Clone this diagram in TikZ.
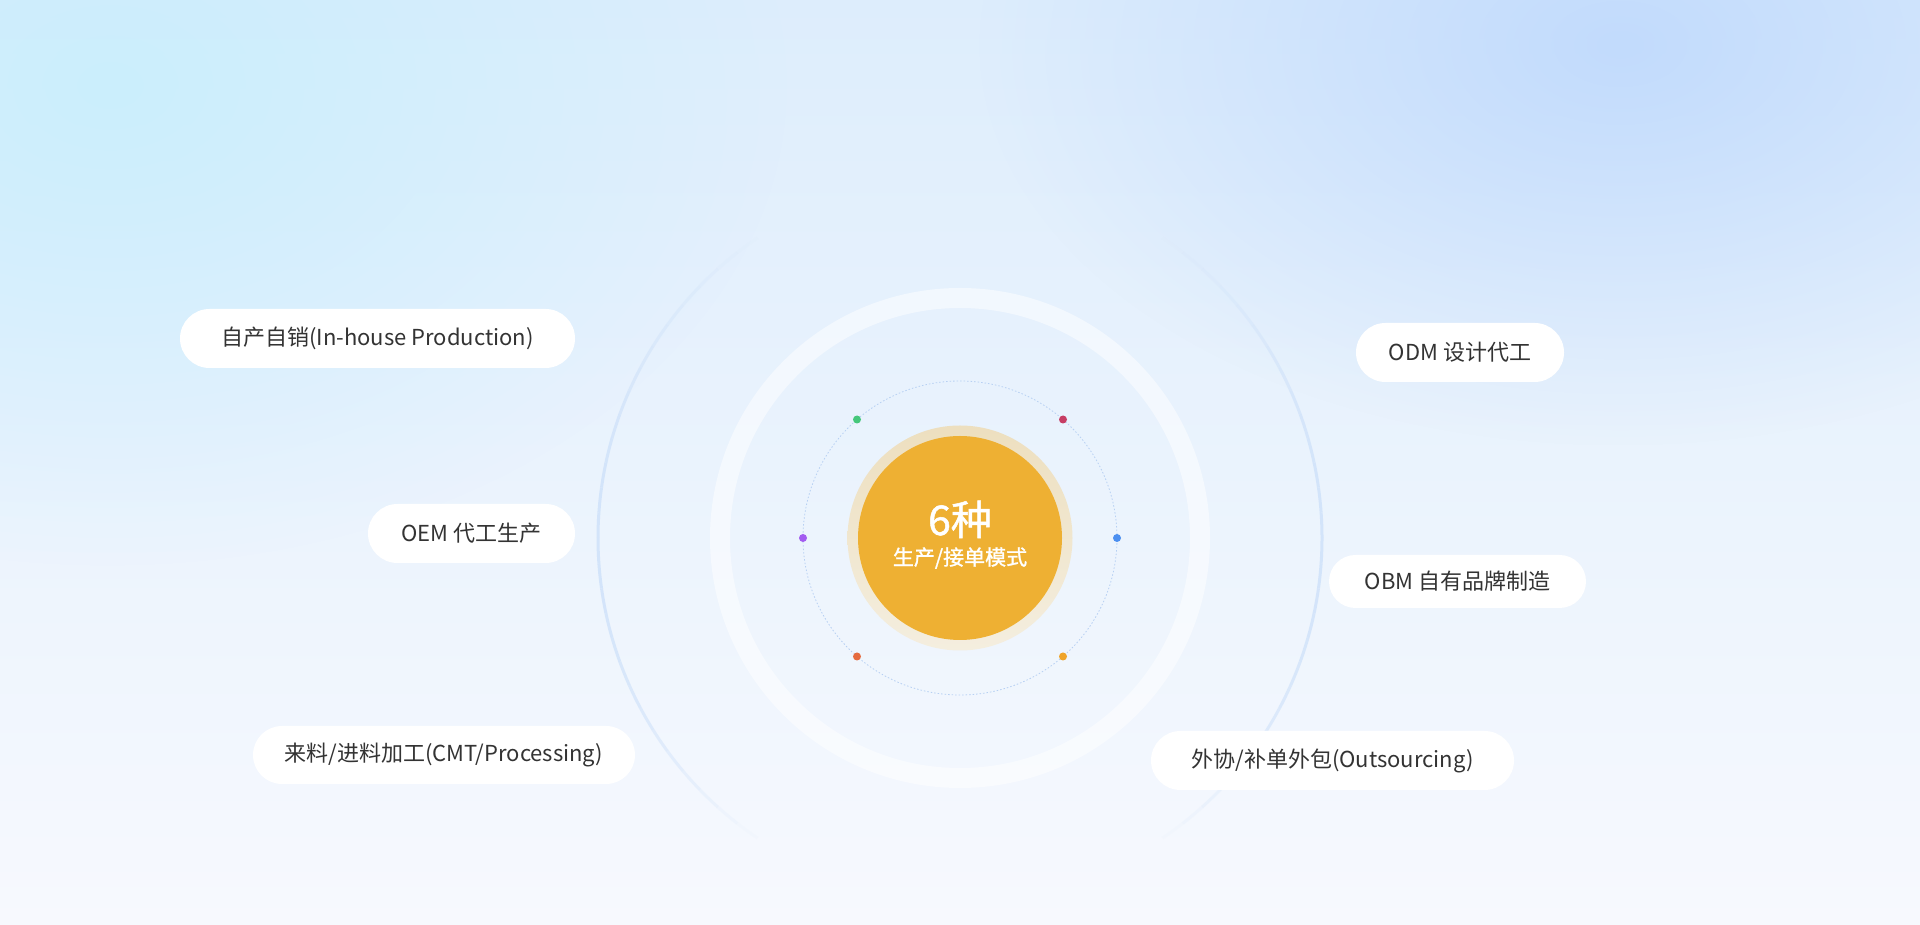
\documentclass[tikz,border=0pt]{standalone}
\usepackage{fontspec}
\setmainfont{Noto Sans CJK SC}
\newfontfamily\medio[FakeBold=1.2]{Noto Sans CJK SC}
\usetikzlibrary{shapes.misc,fadings}

\definecolor{fondoarriba}{HTML}{DDEDFC}
\definecolor{fondomedio}{HTML}{E8F2FD}
\definecolor{fondoabajo}{HTML}{F7F9FE}
\definecolor{manchaizq}{HTML}{CBEEFD}
\definecolor{manchader}{HTML}{C2DBFC}
\definecolor{naranja}{HTML}{EEB033}
\definecolor{beigearriba}{HTML}{EDDFBF}
\definecolor{beigeabajo}{HTML}{F4EEDF}
\definecolor{punteado}{HTML}{B7D0F3}
\definecolor{anilloazul}{HTML}{D3E4FA}
\definecolor{texto}{HTML}{333333}
\definecolor{verde}{HTML}{45C77B}
\definecolor{rojo}{HTML}{C63D64}
\definecolor{morado}{HTML}{A25CF0}
\definecolor{azul}{HTML}{4B8FF0}
\definecolor{coral}{HTML}{E56B40}
\definecolor{ambar}{HTML}{EFA42A}

\tikzfading[name=mancha, inner color=transparent!0, outer color=transparent!100]

\tikzset{
  etiqueta/.style={rounded rectangle, fill=white, text=texto, inner sep=0pt,
    minimum height=59pt, font=\fontsize{22}{26}\selectfont},
  punto/.style={circle, inner sep=0pt, minimum size=8pt},
  anillo/.style={draw=anilloazul, line width=3pt},
}

\begin{document}
\begin{tikzpicture}[x=1pt,y=1pt]
    \useasboundingbox (0,0) rectangle (1920,925);
    % Fondo
    \shade[top color=fondoarriba, middle color=fondomedio, bottom color=fondoabajo] (0,0) rectangle (1920,925);
    \fill[manchaizq, path fading=mancha] (110,840) ellipse (680 and 480);
    \fill[manchader, path fading=mancha] (1620,880) ellipse (640 and 400);
    % Anillos
    \coordinate (c) at (960,387);
    \foreach \a in {-56,-52,...,52} {
        \pgfmathsetmacro\op{max(0,cos(1.6*(\a+2)))}
        \pgfmathsetmacro\b{\a+4}
        \pgfmathsetmacro\aa{180+\a}
        \pgfmathsetmacro\bb{184+\a}
        \draw[anillo, opacity=\op] (c) ++(\a:362) arc[start angle=\a, end angle=\b, radius=362];
        \draw[anillo, opacity=\op] (c) ++(\aa:362) arc[start angle=\aa, end angle=\bb, radius=362];
    }
    \draw[white, opacity=0.5, line width=20pt] (c) circle[radius=240];
    \draw[punteado, line width=0.8pt, dash pattern=on 1.5pt off 2pt] (c) circle[radius=157];
    % Centro
    \shade[top color=beigearriba, bottom color=beigeabajo] (c) circle[radius=112.5];
    \node[circle, fill=naranja, minimum size=204pt, inner sep=0pt] (hub) at (c) {};
    \node[anchor=base, text=white, font=\medio\fontsize{41}{44}\selectfont] (num) at (960,390) {6种};
    \node[anchor=base, text=white, font=\medio\fontsize{21}{24}\selectfont] (modo) at (960,360) {生产/接单模式};
    % Puntos
    \foreach \ang/\col/\nom in {0/azul/d1, 49/rojo/d2, 131/verde/d3, 180/morado/d4, 229/coral/d5, 311/ambar/d6}
        \node[punto, fill=\col] (\nom) at ([shift={(\ang:157)}]c) {};
    % Etiquetas
    \node[etiqueta, minimum width=395pt] (inhouse) at (377.5,586.5) {自产自销(In-house Production)};
    \node[etiqueta, minimum width=207pt] (oem) at (471.5,391.5) {OEM 代工生产};
    \node[etiqueta, minimum width=382pt, minimum height=58pt] (cmt) at (444,170) {来料/进料加工(CMT/Processing)};
    \node[etiqueta, minimum width=208pt] (odm) at (1460,572.5) {ODM 设计代工};
    \node[etiqueta, minimum width=257pt, minimum height=53pt] (obm) at (1457.5,343.5) {OBM 自有品牌制造};
    \node[etiqueta, minimum width=363pt] (outsrc) at (1332.5,164.5) {外协/补单外包(Outsourcing)};
\end{tikzpicture}
\end{document}
